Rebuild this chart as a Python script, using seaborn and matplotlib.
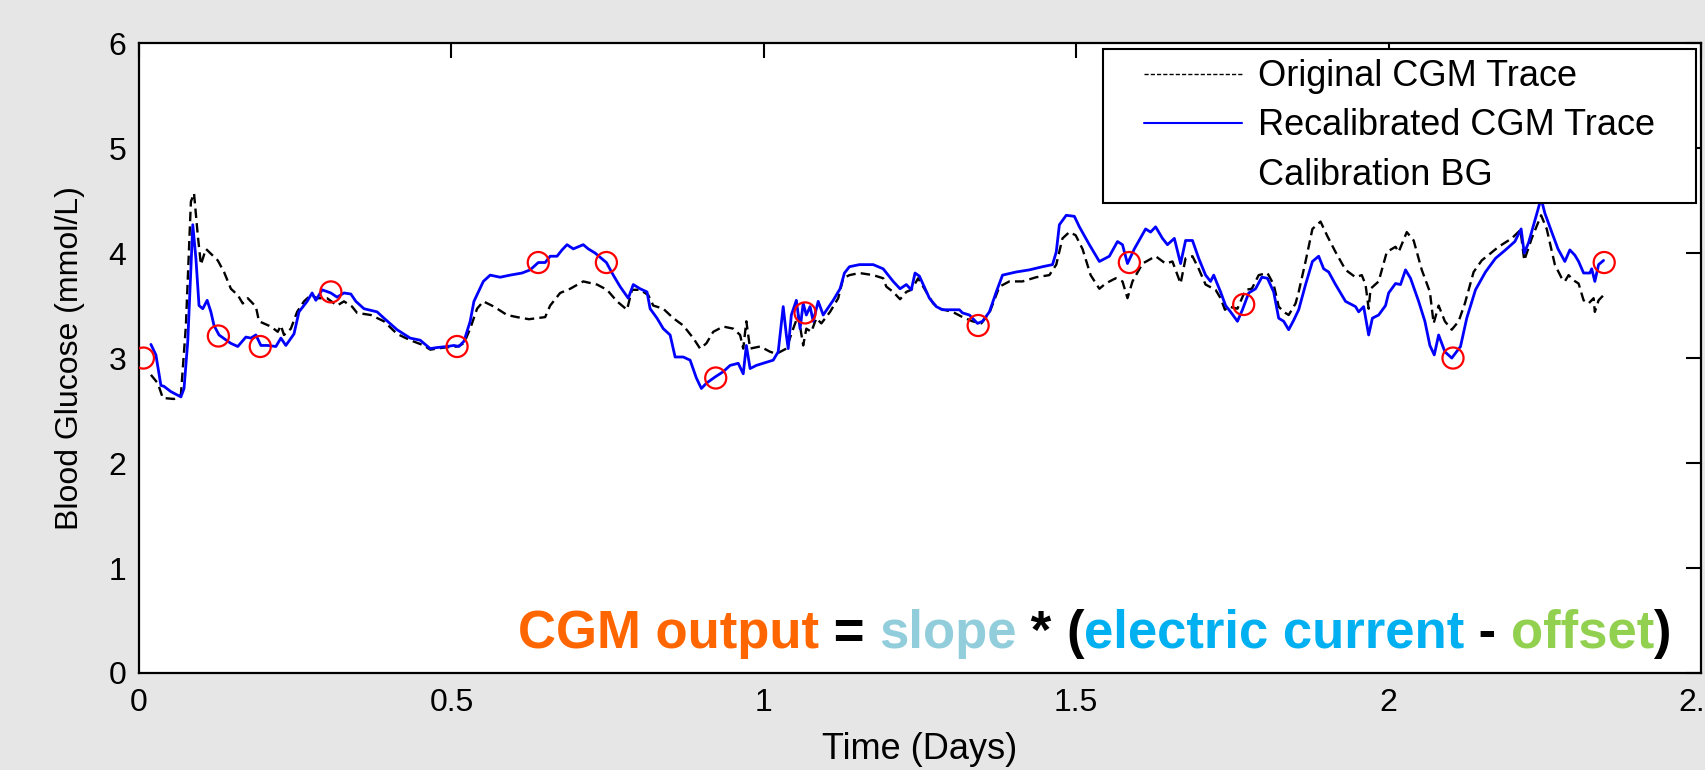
import matplotlib
matplotlib.use("Agg")
import matplotlib.pyplot as plt
import seaborn as sns
from matplotlib.lines import Line2D
from matplotlib.legend_handler import HandlerLine2D

# ---------------- data ----------------
orig_days = [0.019, 0.030, 0.038, 0.056, 0.067, 0.075, 0.083, 0.088, 0.094, 0.099, 0.107, 0.126, 0.136,
             0.147, 0.158, 0.166, 0.174, 0.187, 0.192, 0.211, 0.222, 0.227, 0.232, 0.243, 0.253, 0.264,
             0.275, 0.285, 0.301, 0.317, 0.328, 0.341, 0.349, 0.371, 0.392, 0.413, 0.434, 0.456, 0.466,
             0.488, 0.509, 0.520, 0.530, 0.541, 0.551, 0.568, 0.589, 0.605, 0.624, 0.650, 0.658, 0.674,
             0.690, 0.711, 0.733, 0.749, 0.765, 0.781, 0.789, 0.802, 0.815, 0.823, 0.839, 0.855, 0.871,
             0.887, 0.898, 0.908, 0.919, 0.935, 0.951, 0.962, 0.967, 0.972, 0.978, 0.994, 1.010, 1.020,
             1.036, 1.047, 1.055, 1.063, 1.068, 1.076, 1.084, 1.092, 1.106, 1.119, 1.127, 1.137, 1.153,
             1.175, 1.191, 1.196, 1.207, 1.218, 1.228, 1.236, 1.247, 1.257, 1.271, 1.281, 1.302, 1.318,
             1.334, 1.348, 1.361, 1.377, 1.393, 1.414, 1.436, 1.457, 1.468, 1.478, 1.489, 1.499, 1.510,
             1.523, 1.537, 1.547, 1.563, 1.574, 1.582, 1.590, 1.606, 1.627, 1.643, 1.654, 1.667, 1.675,
             1.686, 1.696, 1.707, 1.723, 1.731, 1.738, 1.744, 1.758, 1.771, 1.781, 1.792, 1.806, 1.816,
             1.824, 1.832, 1.840, 1.851, 1.856, 1.867, 1.878, 1.891, 1.902, 1.915, 1.931, 1.947, 1.957,
             1.963, 1.968, 1.971, 1.984, 1.997, 2.011, 2.016, 2.029, 2.040, 2.053, 2.066, 2.072, 2.080,
             2.090, 2.101, 2.112, 2.122, 2.136, 2.149, 2.176, 2.197, 2.211, 2.217, 2.229, 2.244, 2.253,
             2.266, 2.277, 2.282, 2.288, 2.296, 2.304, 2.312, 2.320, 2.328, 2.330, 2.336, 2.344]
orig_bg = [2.84, 2.76, 2.62, 2.61, 2.65, 3.31, 4.49, 4.57, 4.17, 3.89, 4.04, 3.93, 3.82,
           3.66, 3.60, 3.52, 3.57, 3.49, 3.35, 3.30, 3.25, 3.31, 3.22, 3.28, 3.44, 3.54,
           3.60, 3.57, 3.57, 3.50, 3.54, 3.49, 3.43, 3.41, 3.35, 3.23, 3.17, 3.12, 3.08,
           3.10, 3.11, 3.14, 3.28, 3.47, 3.54, 3.49, 3.41, 3.39, 3.37, 3.39, 3.50, 3.62,
           3.66, 3.73, 3.70, 3.65, 3.54, 3.46, 3.65, 3.65, 3.60, 3.50, 3.47, 3.38, 3.31,
           3.19, 3.09, 3.14, 3.25, 3.30, 3.28, 3.22, 3.09, 3.35, 3.09, 3.11, 3.06, 3.04,
           3.09, 3.28, 3.41, 3.12, 3.28, 3.25, 3.38, 3.33, 3.44, 3.57, 3.76, 3.79, 3.81,
           3.79, 3.76, 3.68, 3.63, 3.56, 3.63, 3.65, 3.76, 3.66, 3.52, 3.47, 3.44, 3.39,
           3.35, 3.33, 3.43, 3.68, 3.73, 3.73, 3.77, 3.79, 3.89, 4.14, 4.20, 4.17, 4.04,
           3.79, 3.66, 3.71, 3.76, 3.73, 3.57, 3.73, 3.90, 3.97, 3.90, 3.92, 3.71, 3.95,
           3.97, 3.85, 3.70, 3.65, 3.57, 3.46, 3.49, 3.47, 3.65, 3.66, 3.79, 3.81, 3.70,
           3.49, 3.44, 3.41, 3.52, 3.63, 3.92, 4.23, 4.30, 4.16, 4.01, 3.84, 3.77, 3.79,
           3.70, 3.47, 3.66, 3.73, 4.01, 4.06, 4.01, 4.20, 4.12, 3.84, 3.63, 3.33, 3.50,
           3.35, 3.27, 3.35, 3.52, 3.82, 3.93, 4.06, 4.14, 4.22, 3.93, 4.14, 4.36, 4.23,
           3.89, 3.76, 3.73, 3.79, 3.74, 3.71, 3.55, 3.52, 3.57, 3.44, 3.55, 3.60]

recal_days = [0.019, 0.027, 0.035, 0.040, 0.051, 0.067, 0.072, 0.078, 0.086, 0.091, 0.096, 0.102, 0.109,
              0.115, 0.120, 0.128, 0.142, 0.147, 0.158, 0.171, 0.179, 0.187, 0.195, 0.206, 0.219, 0.227,
              0.235, 0.248, 0.256, 0.269, 0.277, 0.283, 0.293, 0.307, 0.317, 0.328, 0.339, 0.347, 0.360,
              0.381, 0.392, 0.413, 0.434, 0.450, 0.466, 0.477, 0.493, 0.504, 0.512, 0.520, 0.530, 0.536,
              0.551, 0.562, 0.578, 0.594, 0.613, 0.626, 0.639, 0.650, 0.658, 0.669, 0.677, 0.685, 0.695,
              0.711, 0.719, 0.730, 0.748, 0.759, 0.770, 0.783, 0.791, 0.802, 0.813, 0.818, 0.829, 0.839,
              0.850, 0.858, 0.871, 0.882, 0.892, 0.900, 0.908, 0.922, 0.935, 0.946, 0.959, 0.967, 0.972,
              0.978, 0.988, 0.999, 1.015, 1.023, 1.031, 1.036, 1.039, 1.044, 1.052, 1.058, 1.063, 1.068,
              1.074, 1.079, 1.087, 1.095, 1.111, 1.122, 1.129, 1.137, 1.153, 1.175, 1.191, 1.199, 1.207,
              1.218, 1.228, 1.236, 1.242, 1.249, 1.265, 1.276, 1.286, 1.313, 1.318, 1.329, 1.342, 1.350,
              1.361, 1.372, 1.382, 1.404, 1.425, 1.446, 1.462, 1.468, 1.473, 1.484, 1.497, 1.505, 1.521,
              1.537, 1.553, 1.566, 1.574, 1.582, 1.593, 1.611, 1.619, 1.627, 1.638, 1.646, 1.657, 1.667,
              1.675, 1.686, 1.696, 1.707, 1.715, 1.720, 1.731, 1.739, 1.747, 1.758, 1.766, 1.776, 1.787,
              1.797, 1.806, 1.816, 1.824, 1.832, 1.840, 1.848, 1.856, 1.867, 1.878, 1.888, 1.896, 1.904,
              1.915, 1.931, 1.947, 1.952, 1.960, 1.968, 1.974, 1.984, 1.995, 2.000, 2.011, 2.019, 2.027,
              2.035, 2.048, 2.058, 2.066, 2.073, 2.080, 2.090, 2.101, 2.115, 2.125, 2.139, 2.155, 2.171,
              2.187, 2.202, 2.212, 2.217, 2.224, 2.234, 2.244, 2.250, 2.261, 2.271, 2.282, 2.290, 2.298,
              2.304, 2.312, 2.322, 2.325, 2.330, 2.336, 2.344]
recal_bg = [3.13, 3.03, 2.74, 2.73, 2.68, 2.63, 2.71, 3.16, 4.27, 3.95, 3.50, 3.47, 3.55,
            3.44, 3.31, 3.22, 3.16, 3.14, 3.11, 3.20, 3.19, 3.22, 3.12, 3.12, 3.11, 3.19,
            3.12, 3.23, 3.44, 3.54, 3.62, 3.55, 3.65, 3.62, 3.58, 3.62, 3.61, 3.54, 3.47,
            3.44, 3.38, 3.27, 3.19, 3.17, 3.09, 3.10, 3.11, 3.12, 3.11, 3.16, 3.35, 3.54,
            3.73, 3.79, 3.77, 3.79, 3.81, 3.84, 3.91, 3.91, 3.97, 3.97, 4.03, 4.08, 4.04,
            4.08, 4.04, 4.00, 3.91, 3.79, 3.68, 3.57, 3.70, 3.66, 3.63, 3.47, 3.38, 3.28,
            3.22, 3.01, 3.01, 2.98, 2.81, 2.71, 2.76, 2.82, 2.87, 2.93, 2.95, 2.85, 3.12,
            2.90, 2.93, 2.95, 2.98, 3.06, 3.49, 3.22, 3.09, 3.41, 3.55, 3.28, 3.52, 3.41,
            3.49, 3.35, 3.54, 3.41, 3.55, 3.66, 3.81, 3.87, 3.89, 3.89, 3.85, 3.79, 3.73,
            3.66, 3.70, 3.65, 3.81, 3.78, 3.57, 3.49, 3.46, 3.46, 3.43, 3.41, 3.33, 3.35,
            3.44, 3.63, 3.79, 3.82, 3.84, 3.87, 3.89, 4.01, 4.27, 4.36, 4.35, 4.25, 4.08,
            3.92, 3.97, 4.11, 4.08, 3.90, 4.04, 4.23, 4.20, 4.25, 4.14, 4.08, 4.14, 3.90,
            4.12, 4.12, 3.95, 3.79, 3.73, 3.79, 3.63, 3.50, 3.44, 3.35, 3.46, 3.62, 3.66,
            3.77, 3.76, 3.63, 3.38, 3.35, 3.27, 3.36, 3.46, 3.70, 3.92, 3.97, 3.85, 3.82,
            3.70, 3.54, 3.49, 3.44, 3.49, 3.22, 3.38, 3.41, 3.50, 3.62, 3.71, 3.70, 3.84,
            3.76, 3.54, 3.35, 3.12, 3.03, 3.22, 3.06, 3.00, 3.11, 3.38, 3.65, 3.82, 3.95,
            4.03, 4.11, 4.23, 4.00, 4.10, 4.31, 4.52, 4.38, 4.20, 4.04, 3.92, 4.03, 3.98,
            3.92, 3.81, 3.81, 3.85, 3.73, 3.89, 3.93]

cal_days = [0.007, 0.127, 0.194, 0.307, 0.509, 0.639, 0.748, 0.923, 1.066, 1.343, 1.585, 1.768, 2.103, 2.345]
cal_bg = [3.00, 3.21, 3.11, 3.63, 3.11, 3.91, 3.91, 2.81, 3.43, 3.31, 3.91, 3.51, 3.00, 3.91]

x_ticks = [0, 0.5, 1, 1.5, 2, 2.5]
x_tick_labels = ["0", "0.5", "1", "1.5", "2", "2.5"]
y_ticks = [0, 1, 2, 3, 4, 5, 6]
legend_labels = ["Original CGM Trace", "Recalibrated CGM Trace", "Calibration BG"]
eq_parts = ["CGM output", " = ", "slope", " * ", "(", "electric current", " - ", "offset", ")"]
eq_colors = ["#ff6600", "black", "#92cddc", "black", "black", "#00b0f0", "black", "#92d050", "black"]

# ---------------- style ----------------
sns.set_theme(style="white")
plt.rcParams["font.family"] = ["Liberation Sans", "DejaVu Sans"]
plt.rcParams["text.color"] = "black"
plt.rcParams["axes.labelcolor"] = "black"

fig = plt.figure(figsize=(17.06, 7.70), dpi=100, facecolor="#e6e6e6")
ax = fig.add_axes([0.0815, 0.126, 0.9156, 0.818])
ax.set_facecolor("white")

sns.lineplot(x=orig_days, y=orig_bg, ax=ax, color="black", lw=1.7, sort=False,
             estimator=None, linestyle=(0, (4, 2.2)))
sns.lineplot(x=recal_days, y=recal_bg, ax=ax, color="#0000ff", lw=2.0, sort=False, estimator=None)
sns.scatterplot(x=cal_days, y=cal_bg, ax=ax, marker="o", s=230, facecolors="none",
                edgecolors="#ff0000", linewidths=1.6, zorder=5)

ax.set_xlim(0, 2.5)
ax.set_ylim(0, 6)
ax.set_xticks(x_ticks)
ax.set_xticklabels(x_tick_labels)
ax.set_yticks(y_ticks)
ax.set_yticklabels([str(v) for v in y_ticks])
ax.tick_params(direction="in", length=11, width=1.5, top=True, right=True,
               labelsize=23, colors="black")
ax.tick_params(axis="x", pad=11)
ax.tick_params(axis="y", pad=9)
for sp in ax.spines.values():
    sp.set_color("black")
    sp.set_linewidth(1.6)

ax.set_xlabel("Time (Days)", fontsize=26, labelpad=10)
ax.set_ylabel("Blood Glucose (mmol/L)", fontsize=23, labelpad=17)

handles = [Line2D([], [], color="black", lw=1.0, linestyle=(0, (3, 1.5))),
           Line2D([], [], color="#0000ff", lw=1.5),
           Line2D([], [], color="none")]
pad = "   "
leg = ax.legend(handles, [lab + pad for lab in legend_labels], loc="upper right", fontsize=26,
                frameon=True, fancybox=False, edgecolor="black", framealpha=1,
                handlelength=3.55, handletextpad=0.45, labelspacing=0.39,
                borderaxespad=0.15, borderpad=0.3,
                handler_map={Line2D: HandlerLine2D(xpad=0.85)})
leg.get_frame().set_linewidth(1.5)

# multi-coloured equation, chained right-to-left
prev = None
x_right, y_base = 0.981, 0.04
for part, col in reversed(list(zip(eq_parts, eq_colors))):
    kw = dict(color=col, fontsize=38, fontweight="bold", ha="right", va="baseline")
    if prev is None:
        t = ax.text(x_right, y_base, part, transform=ax.transAxes, **kw)
    else:
        t = ax.annotate(part, xy=(0, y_base), xycoords=(prev, "axes fraction"), **kw)
    prev = t

fig.savefig("out.png", dpi=100, facecolor=fig.get_facecolor())
